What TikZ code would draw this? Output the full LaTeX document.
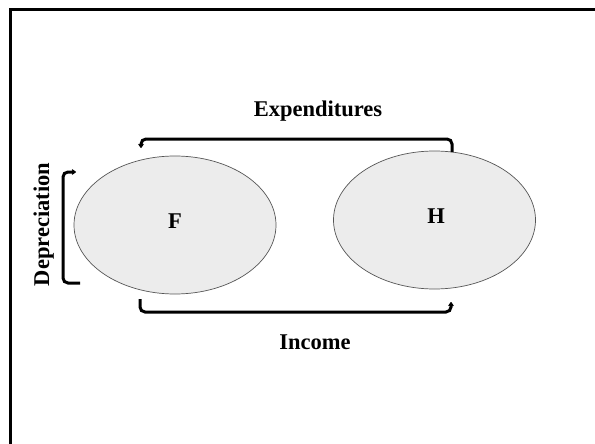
\documentclass[tikz,border=0pt]{standalone}
\usepackage{fontspec}
\setmainfont{Liberation Serif}
\usetikzlibrary{shapes.geometric,arrows.meta}

\definecolor{sectorfill}{HTML}{ECECEC}
\definecolor{sectorline}{HTML}{555555}

\tikzset{
  sector/.style={ellipse, draw=sectorline, line width=0.7pt, fill=sectorfill,
    minimum width=202pt, minimum height=138pt, inner sep=0pt},
  tag/.style={font=\bfseries\fontsize{22.5}{26}\selectfont, inner sep=0pt, anchor=base},
  flow/.style={line width=3pt, rounded corners=5pt,
    -{Stealth[length=5pt,width=7pt,round]}},
  frameline/.style={line width=2.5pt}
}

\begin{document}
\begin{tikzpicture}[x=1pt, y=-1pt]
  \useasboundingbox (0,0) rectangle (595,444);

  % outer frame (top and left edges)
  \coordinate (fTL) at (10.5,9.5);
  \coordinate (fTR) at (596,9.5);
  \coordinate (fBL) at (10.5,445);
  \draw[frameline] (fBL) -- (fTL) -- (fTR);

  % the two sectors
  \node[sector] (F) at (175,225) {};
  \node[sector] (H) at (434.5,220) {};
  \node[tag] (Flab) at (175,228) {F};
  \node[tag] (Hlab) at (436,223) {H};

  % expenditures: from H back to F over the top
  \coordinate (eA) at (452,152);
  \coordinate (eB) at (452,139);
  \coordinate (eC) at (141,139);
  \coordinate (eD) at (141,148);
  \draw[flow] (eA) -- (eB) -- (eC) -- (eD);
  \node[tag] (Exp) at (318,117) {Expenditures};

  % income: from F to H underneath
  \coordinate (iA) at (140,299);
  \coordinate (iB) at (140,312);
  \coordinate (iC) at (451,312);
  \coordinate (iD) at (451,302);
  \draw[flow] (iA) -- (iB) -- (iC) -- (iD);
  \node[tag] (Inc) at (315,349) {Income};

  % depreciation: loop on the left of F
  \coordinate (dA) at (80,283);
  \coordinate (dB) at (63,283);
  \coordinate (dC) at (63,172);
  \coordinate (dD) at (76,172);
  \draw[flow] (dA) -- (dB) -- (dC) -- (dD);
  \node[tag, rotate=90] (Dep) at (49,224.5) {Depreciation};
\end{tikzpicture}
\end{document}
